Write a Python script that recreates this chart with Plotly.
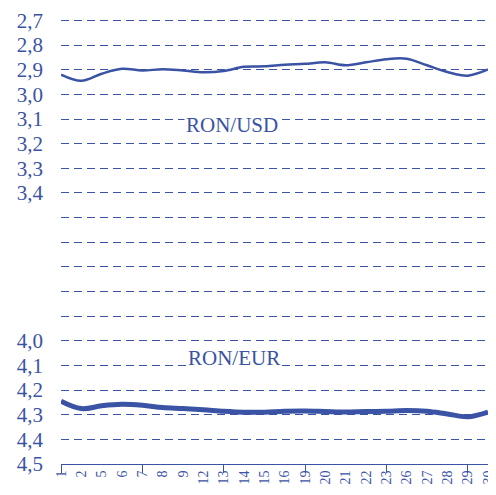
import plotly.graph_objects as go

days = ["1", "2", "5", "6", "7", "8", "9", "12", "13", "14", "15",
        "16", "19", "20", "21", "22", "23", "26", "27", "28", "29", "30"]
ron_usd = [2.920, 2.945, 2.916, 2.896, 2.903, 2.898, 2.903, 2.910, 2.905, 2.888, 2.886,
           2.880, 2.876, 2.870, 2.882, 2.870, 2.857, 2.855, 2.882, 2.909, 2.924, 2.899]
ron_eur = [4.245, 4.275, 4.264, 4.258, 4.262, 4.271, 4.275, 4.280, 4.286, 4.290, 4.290,
           4.286, 4.285, 4.287, 4.289, 4.287, 4.286, 4.283, 4.286, 4.297, 4.308, 4.289]
y_ticks = [2.7, 2.8, 2.9, 3.0, 3.1, 3.2, 3.3, 3.4, 3.5, 3.6, 3.7, 3.8, 3.9,
           4.0, 4.1, 4.2, 4.3, 4.4, 4.5]
y_labels = ["2,7", "2,8", "2,9", "3,0", "3,1", "3,2", "3,3", "3,4", "", "", "", "", "",
            "4,0", "4,1", "4,2", "4,3", "4,4", "4,5"]
major_days = ["1", "7", "13", "19", "23", "29"]

BLUE = "#3a53a4"
FONT = "Liberation Serif"

fig = go.Figure()
fig.add_trace(go.Scatter(x=days, y=ron_usd, mode="lines", line=dict(color=BLUE, width=2.5, shape="spline"),
                         name="RON/USD"))
fig.add_trace(go.Scatter(x=days, y=ron_eur, mode="lines", line=dict(color=BLUE, width=5, shape="spline"),
                         name="RON/EUR"))
# invisible copy on a second axis, only to carry the sparse tick marks
fig.add_trace(go.Scatter(x=days, y=ron_eur, mode="lines", line=dict(width=0), xaxis="x2",
                         hoverinfo="skip", showlegend=False))

fig.add_annotation(x=0.4, xref="paper", y=3.126, yref="y", text="RON/USD", showarrow=False,
                   bgcolor="white", font=dict(size=21, color=BLUE, family=FONT))
fig.add_annotation(x=0.405, xref="paper", y=4.07, yref="y", text="RON/EUR", showarrow=False,
                   bgcolor="white", font=dict(size=21, color=BLUE, family=FONT))

# the page body adds an 8px offset, so the figure is 8px smaller
fig.update_layout(
    width=488,
    height=487,
    margin=dict(l=53, r=8, t=10, b=31),
    plot_bgcolor="white",
    paper_bgcolor="white",
    showlegend=False,
    font=dict(family=FONT, color=BLUE),
    xaxis=dict(
        type="category",
        range=[0, len(days) - 1],
        showgrid=False,
        showline=True,
        linecolor=BLUE,
        linewidth=1,
        ticks="",
        tickangle=-90,
        automargin=False,
        tickfont=dict(size=14, family=FONT, color=BLUE),
        zeroline=False,
    ),
    xaxis2=dict(
        type="category",
        overlaying="x",
        anchor="y",
        side="bottom",
        range=[0, len(days) - 1],
        tickmode="array",
        tickvals=major_days,
        ticks="outside",
        ticklen=8,
        tickcolor=BLUE,
        showticklabels=False,
        showgrid=False,
        showline=False,
        automargin=False,
    ),
    yaxis=dict(
        range=[4.5, 2.69],
        tickmode="array",
        tickvals=y_ticks,
        ticktext=y_labels,
        showgrid=True,
        gridcolor=BLUE,
        gridwidth=1,
        griddash="8px,5px",
        zeroline=False,
        showline=False,
        ticks="",
        automargin=False,
        ticklabelstandoff=17,
        tickfont=dict(size=21, family=FONT, color=BLUE),
    ),
)

fig.write_html("out.html")
